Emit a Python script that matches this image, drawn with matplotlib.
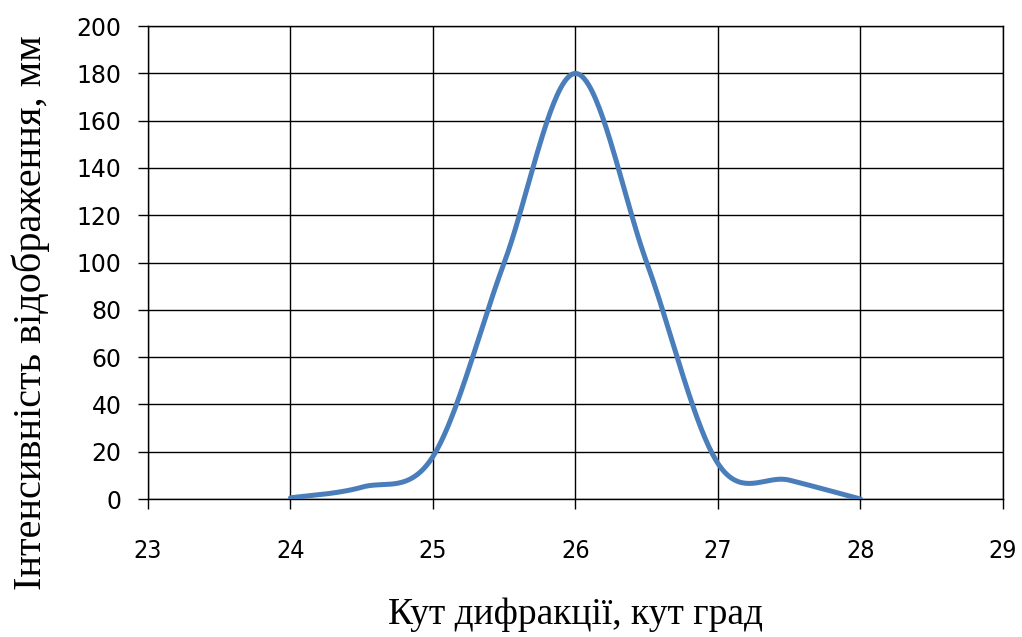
import numpy as np
import matplotlib.pyplot as plt

# кут дифракції та інтенсивність
angle = [24, 24.5, 25, 25.5, 26, 26.5, 27, 27.5, 28]
intensity = [0.5, 5, 18, 100, 180, 100, 15, 8, 0]


def smooth(xs, ys, n=40):
    # згладжування як в Excel (Catmull-Rom через Безьє)
    xs = np.asarray(xs, float)
    ys = np.asarray(ys, float)
    px = np.concatenate([[xs[0]], xs, [xs[-1]]])
    py = np.concatenate([[ys[0]], ys, [ys[-1]]])
    out_x, out_y = [], []
    t = np.linspace(0, 1, n)
    for i in range(1, len(px) - 2):
        p0 = np.array([px[i], py[i]])
        p3 = np.array([px[i + 1], py[i + 1]])
        p1 = p0 + (p3 - np.array([px[i - 1], py[i - 1]])) / 6
        p2 = p3 - (np.array([px[i + 2], py[i + 2]]) - p0) / 6
        b = ((1 - t) ** 3)[:, None] * p0 + (3 * (1 - t) ** 2 * t)[:, None] * p1 \
            + (3 * (1 - t) * t ** 2)[:, None] * p2 + (t ** 3)[:, None] * p3
        out_x.extend(b[:, 0])
        out_y.extend(b[:, 1])
    return out_x, out_y


fig = plt.figure(figsize=(10.22, 6.37), dpi=100)
ax = fig.add_axes([0.1448, 0.2166, 0.8366, 0.7424])

sx, sy = smooth(angle, intensity)
ax.plot(sx, sy, color='#4a7ebb', linewidth=3.6, solid_capstyle='round', zorder=3)

ax.set_xlim(23, 29)
ax.set_ylim(0, 200)
ax.set_xticks(range(23, 30))
ax.set_yticks(range(0, 201, 20))
ax.grid(True, color='black', linewidth=1.0)
for s in ax.spines.values():
    s.set_color('black')
    s.set_linewidth(1.0)
ax.tick_params(axis='both', direction='out', length=7, width=1)
ax.tick_params(axis='x', pad=22, labelsize=18)
ax.tick_params(axis='y', pad=12, labelsize=17)
for lab in ax.get_xticklabels():
    lab.set_fontstretch('condensed')

ax.set_xlabel('Кут дифракції, кут град', fontfamily='Liberation Serif', fontsize=27)
ax.set_ylabel('Інтенсивність відображення, мм', fontfamily='Liberation Serif', fontsize=29)
ax.xaxis.set_label_coords(0.5, -0.245)
ax.yaxis.set_label_coords(-0.137, 0.395)
ax.xaxis.label.set_va('center')
ax.yaxis.label.set_va('center')

fig.savefig('out.png', dpi=100)
